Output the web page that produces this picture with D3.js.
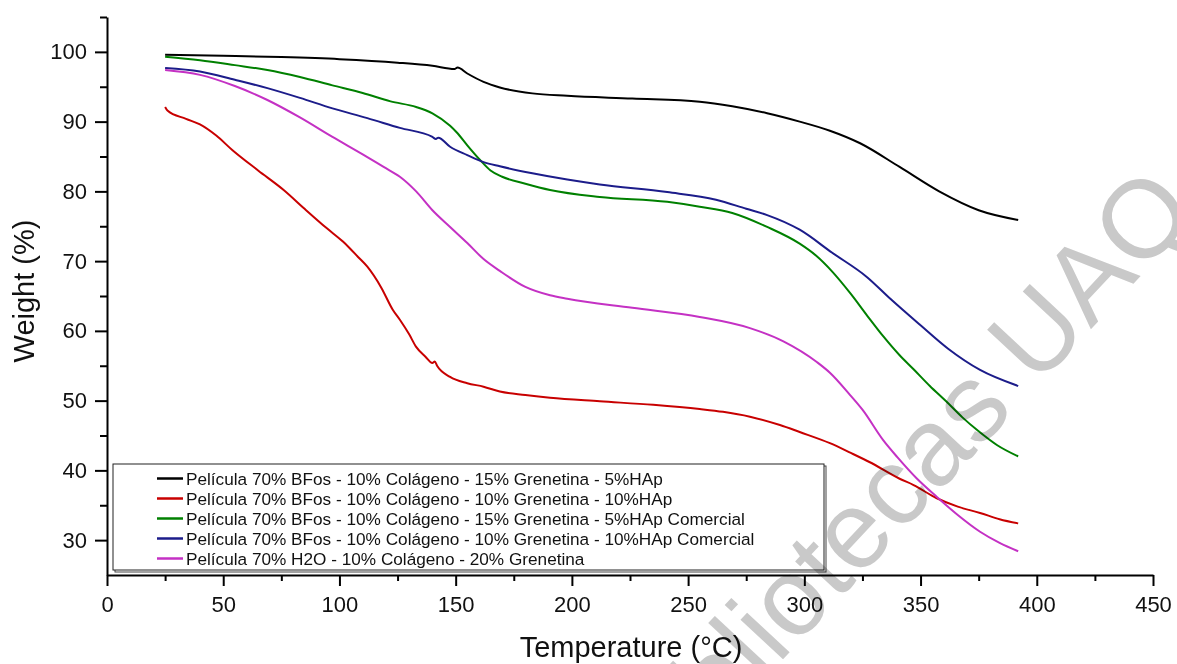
<!DOCTYPE html>
<html>
<head>
<meta charset="utf-8">
<script src="https://cdn.jsdelivr.net/npm/d3@7"></script>
<style>
  body { margin: 0; background: #fff; }
  svg { display: block; }
</style>
</head>
<body>
<div id="main"></div>
<script>
// legend labels
const seriesNames = [
  "Película 70% BFos - 10% Colágeno - 15% Grenetina - 5%HAp",
  "Película 70% BFos - 10% Colágeno - 10% Grenetina - 10%HAp",
  "Película 70% BFos - 10% Colágeno - 15% Grenetina - 5%HAp Comercial",
  "Película 70% BFos - 10% Colágeno - 10% Grenetina - 10%HAp Comercial",
  "Película 70% H2O - 10% Colágeno - 20% Grenetina"
];

// temperature (°C) / weight (%)
const tempBlack = [25, 50, 75, 100, 125, 140, 149.5, 150.8, 155, 162, 169, 183, 198, 226, 255, 269, 284, 298, 311, 324, 341, 358, 375, 392];
const weightBlack = [99.6, 99.45, 99.25, 98.95, 98.45, 98.0, 97.55, 97.75, 96.9, 95.7, 94.9, 94.05, 93.7, 93.3, 92.85, 92.2, 91.2, 90.0, 88.7, 86.9, 83.5, 80.0, 77.3, 75.9];

const tempRed = [25, 26, 34, 40, 47, 54, 65, 76, 85, 94.6, 101.5, 104, 108, 112, 118, 123, 126, 130, 133, 137, 140, 141, 142, 147.6, 155, 162, 169, 180, 190.6, 212, 235, 255, 265, 276.6, 289.5, 298, 311, 320, 328, 341, 347, 357, 366, 375.6, 384, 392];
const weightRed = [92.1, 91.6, 90.4, 89.6, 88.0, 85.9, 83.0, 80.2, 77.5, 74.7, 72.8, 72.0, 70.6, 69.2, 66.2, 63.0, 61.6, 59.5, 57.7, 56.3, 55.4, 55.6, 55.0, 53.4, 52.5, 52.0, 51.3, 50.8, 50.4, 49.9, 49.4, 48.8, 48.4, 47.7, 46.5, 45.5, 43.9, 42.5, 41.2, 38.8, 37.9, 36.0, 34.8, 33.9, 33.0, 32.4];

const tempGreen = [25, 40, 55, 69, 83, 97, 110, 122, 133, 140, 147.6, 150.6, 155, 160.5, 165, 170, 180, 190.6, 212, 241, 255, 269, 284, 298, 305, 312, 320, 327, 334, 341, 347, 354, 361, 368, 375, 383, 392];
const weightGreen = [99.3, 98.8, 98.1, 97.4, 96.4, 95.2, 94.1, 92.9, 92.1, 91.2, 89.4, 88.4, 86.6, 84.5, 83.0, 82.1, 81.1, 80.2, 79.2, 78.5, 77.8, 76.9, 74.9, 72.5, 70.8, 68.5, 65.3, 62.2, 59.2, 56.5, 54.5, 52.1, 49.9, 47.6, 45.6, 43.6, 42.0];

const tempBlue = [25, 40, 55, 69, 83, 97, 112, 126, 140, 141.5, 142.5, 147.6, 155, 162, 169, 183, 198, 212, 241, 262, 275, 284, 298, 312, 327, 337, 350, 362, 375.6, 392];
const weightBlue = [97.7, 97.2, 96.0, 94.8, 93.4, 91.9, 90.5, 89.1, 87.8, 87.5, 87.7, 86.4, 85.2, 84.2, 83.6, 82.6, 81.7, 81.0, 79.9, 78.8, 77.5, 76.6, 74.5, 71.2, 67.7, 64.6, 60.8, 57.4, 54.4, 52.1];

const tempMagenta = [25, 40, 55, 69, 83, 97, 110, 119, 126, 133, 140, 147.6, 155, 162, 169, 180, 190.6, 198, 226, 255, 276.6, 291, 305.5, 311, 319.7, 325, 334, 340, 348.5, 357, 366, 375.6, 384, 392];
const weightMagenta = [97.4, 96.7, 95.1, 93.1, 90.6, 87.8, 85.3, 83.5, 82.1, 80.0, 77.3, 74.9, 72.6, 70.3, 68.6, 66.3, 65.1, 64.6, 63.3, 62.0, 60.4, 58.5, 55.5, 54.0, 50.8, 48.7, 44.3, 41.9, 38.8, 36.2, 33.6, 31.2, 29.6, 28.4];

const seriesColors = ["#000000", "#c80000", "#008000", "#1c1c8a", "#c431c4"];

// axis ticks
const xTicks = [0, 50, 100, 150, 200, 250, 300, 350, 400, 450];
const xMinorTicks = [25, 75, 125, 175, 225, 275, 325, 375, 425];
const yTicks = [30, 40, 50, 60, 70, 80, 90, 100];
const yMinorTicks = [35, 45, 55, 65, 75, 85, 95, 105];

const watermarkText = "Bibliotecas UAQ";

const temps = [tempBlack, tempRed, tempGreen, tempBlue, tempMagenta];
const weights = [weightBlack, weightRed, weightGreen, weightBlue, weightMagenta];

const dataset = seriesNames.map((name, i) => ({
  name: name,
  color: seriesColors[i],
  points: temps[i].map((t, j) => [t, weights[i][j]])
}));

//chart parameters
const width = 1177;
const height = 664;
const margin = { top: 17, right: 24, bottom: 89, left: 107 };

const xScale = d3.scaleLinear()
  .domain([0, 450])
  .range([margin.left, width - margin.right]);

const yScale = d3.scaleLinear()
  .domain([25, 105])
  .range([height - margin.bottom, margin.top]);

const svg = d3.select("#main")
  .append("svg")
  .attr("width", width)
  .attr("height", height)
  .style("background", "#fff");

const fontMain = "'Liberation Sans', Arial, sans-serif";

// x axis
svg.append("g")
  .attr("transform", `translate(0, ${yScale(25)})`)
  .call(d3.axisBottom(xScale).tickValues(xTicks).tickSize(11).tickSizeOuter(0).tickPadding(10));

svg.append("g")
  .attr("transform", `translate(0, ${yScale(25)})`)
  .call(d3.axisBottom(xScale).tickValues(xMinorTicks).tickSize(6).tickFormat(""))
  .call(g => g.select(".domain").remove());

// y axis
svg.append("g")
  .attr("transform", `translate(${xScale(0)}, 0)`)
  .call(d3.axisLeft(yScale).tickValues(yTicks).tickSize(12).tickSizeOuter(0).tickPadding(8));

svg.append("g")
  .attr("transform", `translate(${xScale(0)}, 0)`)
  .call(d3.axisLeft(yScale).tickValues(yMinorTicks).tickSize(7).tickFormat(""))
  .call(g => g.select(".domain").remove());

svg.selectAll(".domain, .tick line")
  .attr("stroke", "#000")
  .attr("stroke-width", 2);

svg.selectAll(".tick text")
  .attr("font-family", fontMain)
  .attr("font-size", 22)
  .attr("fill", "#111");

// axis titles
svg.append("text")
  .attr("transform", `translate(34, ${yScale(65) - 5}) rotate(-90)`)
  .attr("text-anchor", "middle")
  .attr("font-family", fontMain)
  .attr("font-size", 29)
  .attr("fill", "#111")
  .text("Weight (%)");

svg.append("text")
  .attr("x", 631)
  .attr("y", 657)
  .attr("text-anchor", "middle")
  .attr("font-family", fontMain)
  .attr("font-size", 29)
  .attr("fill", "#111")
  .text("Temperature (°C)");

// curves
const line = d3.line()
  .x(d => xScale(d[0]))
  .y(d => yScale(d[1]))
  .curve(d3.curveMonotoneX);

svg.append("g")
  .selectAll("path")
  .data(dataset)
  .enter()
  .append("path")
  .attr("d", d => line(d.points))
  .attr("fill", "none")
  .attr("stroke", d => d.color)
  .attr("stroke-width", 2);

// legend
const legend = svg.append("g");

legend.append("rect")
  .attr("x", 115)
  .attr("y", 466)
  .attr("width", 711)
  .attr("height", 106)
  .attr("fill", "none")
  .attr("stroke", "#444")
  .attr("stroke-width", 1);

legend.append("rect")
  .attr("x", 113)
  .attr("y", 464)
  .attr("width", 711)
  .attr("height", 106)
  .attr("fill", "#fff")
  .attr("stroke", "#222")
  .attr("stroke-width", 1);

const legendRows = legend.selectAll(".row")
  .data(dataset)
  .enter()
  .append("g")
  .attr("class", "row")
  .attr("transform", (d, i) => `translate(157, ${478.5 + i * 20})`);

legendRows.append("line")
  .attr("x1", 0)
  .attr("x2", 26)
  .attr("stroke", d => d.color)
  .attr("stroke-width", 2.5);

legendRows.append("text")
  .attr("x", 29)
  .attr("dy", "0.36em")
  .attr("font-family", fontMain)
  .attr("font-size", 17.2)
  .attr("fill", "#111")
  .text(d => d.name);

// watermark
svg.append("text")
  .attr("transform", "translate(653, 799) rotate(-47)")
  .attr("font-family", fontMain)
  .attr("font-size", 110)
  .attr("fill", "#c9c9c9")
  .style("mix-blend-mode", "multiply")
  .text(watermarkText);
</script>
</body>
</html>
